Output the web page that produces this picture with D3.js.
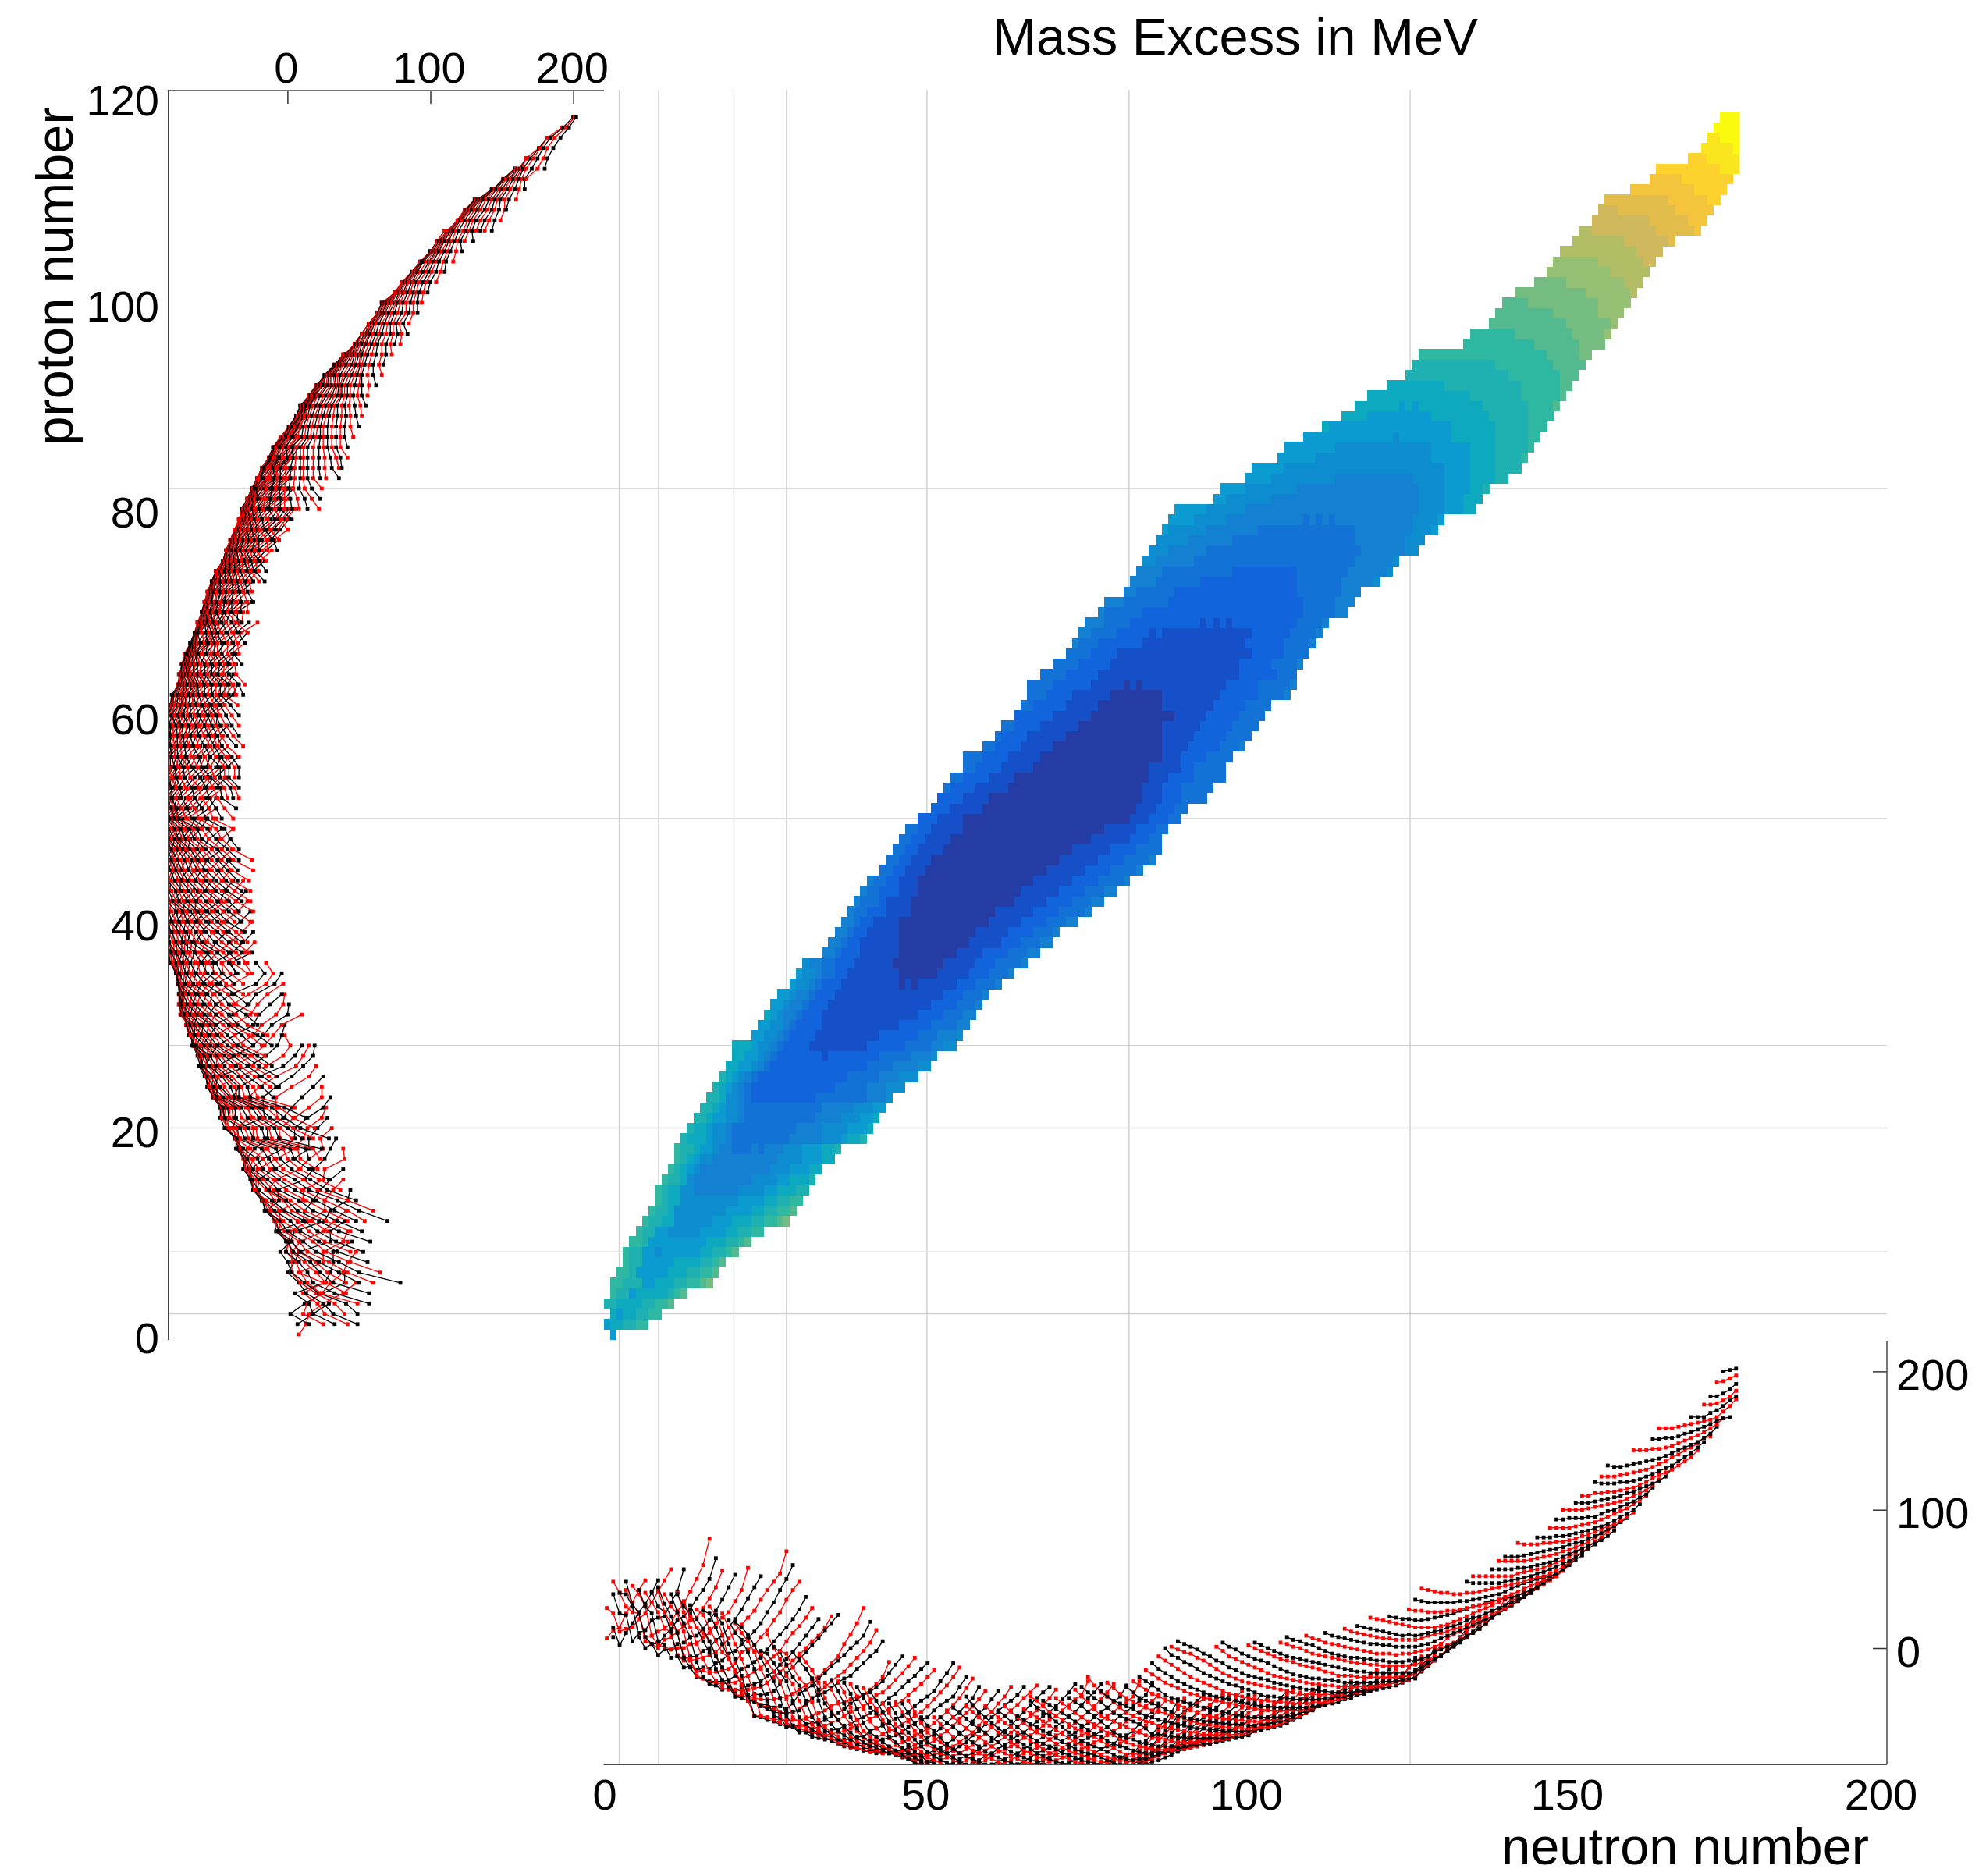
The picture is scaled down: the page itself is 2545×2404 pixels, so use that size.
<!DOCTYPE html>
<html><head><meta charset="utf-8">
<script src="https://cdn.jsdelivr.net/npm/d3@7"></script>
<style>html,body{margin:0;padding:0;background:#fff}svg{display:block}text{font-family:"Liberation Sans",Arial,sans-serif;fill:#000}</style>
</head><body><svg id="c" width="2545" height="2404"></svg>
<script>
const titleText="Mass Excess in MeV", xTitle="neutron number", yTitle="proton number";
const zTicks=[0,20,40,60,80,100,120], nTicks=[0,50,100,150,200], meTicks=[0,100,200];
const magicZ=[2,8,20,28,50,82];
const magicN=[2.44,8.57,20.3,28.5,50.4,81.9,125.7];
const bandColors=["#263ca5","#1650c8","#1164dc","#1272d6","#1480d2","#0d8dcf","#0b9bd0","#0daabf","#1fb0b2","#2eb7a1","#52ba8e","#75bc80","#95bf72","#b2bd66","#d0b85c","#e3bd4b","#f4c43c","#fdd22c","#f9e61e","#fafa0e"];
// first neutron number of each isotopic row, Z = 0..118
const firstN=[1,0,1,0,1,1,2,3,3,4,5,6,7,8,8,9,10,11,11,12,13,14,15,16,17,18,19,20,20,23,24,25,26,27,29,30,31,34,35,36,37,38,39,40,41,43,44,45,46,47,49,51,52,53,54,56,56,59,61,62,64,65,66,66,68,70,72,73,74,75,77,78,81,82,83,84,85,86,87,88,89,95,96,100,101,105,106,109,112,115,117,119,122,125,126,127,134,135,138,139,140,142,145,147,148,149,151,152,154,155,156,160,163,164,169,171,172,173,174];
// mass excess in MeV read per row, Z = 0..118, from firstN upward
const massExcess=[
[8],
[7,13,15,25,33,42,49],
[15,2,11,18,26,32,40,49],
[29,25,12,14,15,21,25,33,41,49,57],
[39,25,24,5,11,13,20,22,23,33,41,57],
[48,40,30,26,25,8,9,12,14,18,27,32,41,50,60,79],
[40,39,30,8,0,3,3,9,14,20,23,28,36,42,50,65],
[42,32,25,5,3,0,6,8,12,16,20,22,29,36,44,56],
[48,32,25,8,3,-5,-1,-1,3,4,8,9,14,20,27,35,44,53],
[45,39,30,9,2,1,-1,0,0,3,3,8,11,18,22,26,34,42,58],
[42,30,25,5,2,-7,-6,-8,-6,-6,-2,0,6,9,15,21,28,36,44,52],
[40,33,26,15,11,-5,-9,-9,-8,-7,-5,-3,2,7,12,17,22,27,35,42,48,54,70],
[41,30,26,12,-6,-14,-13,-16,-14,-15,-11,-9,-4,-2,3,7,12,18,26,33,42,50,60],
[42,26,18,11,-6,-9,-17,-16,-18,-17,-16,-15,-11,-3,-1,2,8,13,20,26,35,42,48],
[44,32,23,11,-7,-14,-21,-22,-24,-24,-24,-23,-20,-15,-13,-10,-6,-1,5,10,15,21,28,37],
[39,30,25,12,-8,-20,-22,-25,-25,-26,-25,-25,-22,-20,-17,-14,-10,-6,-2,5,11,16,22,29],
[39,26,18,8,-10,-21,-26,-27,-30,-29,-31,-29,-27,-26,-24,-20,-17,-12,-8,-3,3,9,15,21],
[40,26,15,4,-8,-17,-24,-29,-30,-30,-31,-30,-29,-28,-25,-21,-17,-13,-9,-5,0,5,9,15,23],
[39,30,25,15,5,-3,-15,-23,-28,-35,-34,-36,-33,-34,-33,-31,-26,-18,-14,-8,-3,2,7,13,18,24],
[34,23,15,11,5,-5,-14,-24,-34,-34,-36,-36,-37,-37,-37,-36,-35,-33,-30,-27,-24,-21,-16,-11,-6,3,10,18,29],
[31,21,14,5,-6,-14,-24,-35,-36,-38,-38,-41,-41,-43,-42,-44,-40,-33,-30,-27,-22,-18,-13,-9,-5,0,4,9,19],
[28,24,14,5,-3,-7,-16,-26,-36,-38,-41,-43,-44,-46,-47,-46,-44,-41,-37,-32,-28,-24,-20,-17,-12,-7,-2,4,13],
[27,25,15,3,-8,-17,-27,-37,-39,-42,-44,-46,-47,-47,-46,-45,-40,-36,-34,-32,-29,-25,-22,-20,-15,-11,-6,-2,5],
[30,24,10,-8,-17,-27,-38,-49,-49,-50,-51,-52,-52,-52,-52,-51,-49,-47,-45,-42,-40,-39,-37,-35,-34,-30,-26,-21,-10],
[24,18,3,-8,-20,-34,-49,-50,-52,-53,-55,-56,-56,-56,-55,-54,-54,-52,-49,-47,-44,-40,-37,-34,-32,-28,-24,-18,-12,-6],
[25,15,3,-8,-20,-34,-49,-50,-52,-54,-57,-56,-57,-56,-58,-57,-56,-54,-52,-49,-46,-44,-42,-39,-34,-32,-28,-23,-18,-13,-7],
[20,11,6,-3,-15,-27,-38,-49,-50,-57,-57,-61,-60,-62,-60,-61,-59,-59,-56,-55,-52,-50,-47,-44,-40,-36,-33,-28,-24,-20,-15,-11],
[18,11,5,-3,-15,-25,-37,-49,-54,-56,-58,-60,-60,-62,-63,-62,-61,-60,-58,-56,-54,-51,-49,-47,-44,-41,-38,-34,-30,-26,-21,-16],
[19,15,10,2,-7,-16,-24,-36,-49,-56,-60,-61,-64,-65,-66,-66,-67,-66,-66,-64,-64,-60,-58,-56,-54,-51,-49,-46,-42,-38,-35,-31,-24,-18,-11],
[-2,-4,-10,-17,-24,-37,-50,-54,-57,-60,-63,-65,-66,-67,-68,-68,-69,-69,-68,-65,-62,-60,-58,-55,-52,-49,-46,-42,-37,-32,-27,-21,-14],
[-2,-4,-11,-18,-24,-38,-50,-55,-59,-61,-65,-67,-69,-71,-71,-71,-70,-69,-68,-66,-65,-63,-61,-57,-54,-52,-50,-45,-41,-38,-35,-28,-21],
[10,0,-8,-20,-26,-38,-50,-55,-60,-63,-65,-68,-70,-72,-73,-74,-75,-74,-73,-72,-70,-68,-66,-63,-61,-58,-54,-50,-46,-41,-36,-29,-22],
[1,-3,-12,-21,-27,-38,-50,-55,-59,-63,-66,-68,-71,-73,-74,-75,-76,-76,-75,-74,-74,-72,-70,-68,-65,-62,-58,-54,-50,-46,-41,-36,-28],
[-2,-4,-14,-22,-27,-39,-52,-57,-61,-64,-67,-70,-72,-73,-75,-75,-76,-76,-75,-75,-74,-73,-71,-69,-67,-63,-60,-56,-51,-47,-42,-37,-31],
[-3,-9,-15,-22,-38,-50,-55,-60,-63,-66,-69,-72,-73,-75,-75,-76,-76,-77,-76,-77,-76,-76,-74,-72,-69,-66,-62,-58,-53,-47,-43,-37,-31],
[-4,-10,-16,-25,-36,-45,-52,-58,-64,-67,-70,-72,-74,-75,-76,-76,-77,-78,-78,-78,-78,-77,-76,-73,-71,-68,-64,-61,-56,-50,-46,-40,-35,-28],
[-15,-22,-30,-40,-46,-52,-57,-61,-65,-68,-71,-72,-74,-76,-77,-79,-80,-81,-81,-82,-80,-78,-76,-74,-71,-68,-63,-60,-55,-50,-46,-41,-38,-34,-28],
[-25,-30,-39,-49,-55,-60,-65,-68,-70,-72,-74,-76,-77,-79,-81,-82,-83,-82,-81,-79,-78,-76,-73,-70,-65,-62,-57,-53,-49,-45,-41,-36,-32,-27],
[-23,-31,-40,-50,-58,-64,-67,-70,-72,-74,-76,-78,-80,-83,-84,-87,-86,-86,-84,-83,-80,-78,-76,-73,-70,-67,-63,-60,-56,-51,-46,-41,-36,-32,-28],
[-24,-32,-43,-52,-60,-64,-68,-71,-73,-76,-78,-80,-82,-84,-87,-87,-87,-86,-85,-83,-81,-78,-76,-74,-71,-68,-64,-61,-57,-53,-49,-45,-41,-36,-30],
[-25,-33,-44,-54,-61,-64,-68,-71,-74,-77,-80,-83,-85,-89,-88,-89,-88,-87,-85,-85,-83,-81,-78,-76,-73,-70,-67,-63,-61,-57,-53,-49,-46,-42,-37,-32,-26],
[-26,-35,-44,-53,-58,-62,-65,-70,-73,-76,-78,-82,-87,-87,-88,-88,-87,-86,-85,-84,-83,-81,-78,-75,-73,-71,-68,-65,-63,-60,-56,-52,-49,-45,-41,-37,-34,-24],
[-28,-36,-43,-47,-55,-64,-68,-72,-76,-79,-82,-86,-87,-88,-88,-88,-88,-88,-87,-86,-85,-84,-82,-80,-78,-76,-73,-70,-67,-64,-61,-57,-53,-49,-46,-41,-36,-32,-26],
[-29,-37,-44,-52,-58,-61,-66,-70,-75,-78,-82,-83,-85,-86,-87,-87,-88,-88,-87,-87,-86,-84,-83,-81,-78,-76,-74,-72,-69,-66,-63,-61,-57,-54,-50,-46,-42,-37,-32,-26],
[-31,-38,-46,-53,-59,-65,-70,-75,-78,-82,-83,-85,-86,-87,-88,-88,-89,-88,-88,-88,-87,-86,-85,-84,-82,-79,-76,-74,-72,-70,-67,-64,-61,-57,-54,-50,-46,-43,-39,-35,-27],
[-40,-47,-55,-60,-65,-70,-75,-79,-81,-83,-85,-86,-87,-88,-88,-89,-88,-88,-87,-87,-86,-85,-84,-82,-80,-78,-76,-74,-72,-69,-66,-63,-61,-57,-53,-49,-46,-42,-39,-35,-24],
[-40,-47,-56,-61,-66,-71,-75,-78,-81,-83,-85,-87,-88,-89,-89,-89,-89,-88,-88,-87,-87,-86,-84,-83,-81,-79,-77,-75,-72,-70,-67,-65,-63,-60,-57,-53,-49,-46,-42,-38,-34,-25],
[-39,-46,-53,-60,-64,-70,-73,-76,-78,-81,-83,-85,-86,-87,-88,-88,-89,-88,-88,-88,-87,-86,-85,-84,-82,-81,-79,-77,-75,-73,-71,-68,-66,-63,-60,-57,-53,-49,-46,-42,-38,-34],
[-40,-47,-55,-60,-68,-71,-74,-76,-79,-82,-84,-85,-87,-88,-89,-89,-89,-89,-90,-89,-88,-88,-87,-87,-85,-84,-83,-81,-79,-77,-76,-73,-71,-69,-65,-63,-60,-55,-50,-46,-40],
[-38,-46,-54,-61,-65,-68,-71,-74,-76,-78,-81,-84,-85,-86,-87,-88,-89,-89,-89,-89,-89,-88,-88,-87,-86,-85,-84,-83,-81,-79,-77,-75,-72,-69,-66,-63,-60,-56,-50,-44,-38],
[-50,-56,-60,-65,-70,-73,-76,-78,-80,-82,-84,-86,-87,-88,-89,-90,-90,-91,-90,-91,-90,-91,-89,-89,-88,-87,-85,-84,-83,-82,-80,-79,-77,-76,-71,-67,-62,-57,-52,-46,-38],
[-50,-55,-60,-64,-68,-71,-74,-76,-78,-80,-82,-84,-85,-86,-87,-88,-88,-89,-89,-89,-89,-88,-88,-88,-87,-86,-85,-84,-82,-81,-79,-78,-74,-70,-65,-60,-55,-50,-44,-36],
[-50,-54,-57,-61,-65,-68,-71,-75,-77,-79,-81,-83,-84,-85,-86,-87,-88,-88,-89,-89,-90,-89,-90,-89,-89,-88,-87,-86,-85,-83,-81,-78,-74,-70,-65,-60,-55,-49,-46,-42,-38,-34],
[-45,-50,-54,-58,-61,-64,-68,-71,-74,-76,-78,-80,-82,-83,-84,-85,-86,-87,-87,-88,-88,-88,-88,-87,-87,-86,-85,-84,-83,-81,-78,-75,-71,-67,-62,-57,-52,-47,-44,-40,-37,-34],
[-43,-47,-51,-55,-58,-61,-65,-68,-72,-75,-77,-79,-81,-82,-84,-85,-86,-87,-88,-88,-89,-88,-89,-88,-88,-87,-86,-85,-84,-81,-78,-75,-72,-68,-61,-57,-54,-51,-47,-44,-41,-37,-34],
[-42,-46,-50,-54,-57,-61,-64,-68,-71,-74,-76,-78,-80,-81,-82,-84,-85,-86,-87,-87,-88,-88,-88,-87,-87,-87,-86,-83,-79,-76,-73,-70,-67,-63,-60,-54,-47,-44,-41,-37,-34],
[-35,-41,-46,-50,-54,-58,-61,-64,-67,-70,-73,-76,-78,-80,-82,-83,-84,-85,-86,-87,-87,-87,-88,-87,-88,-87,-87,-83,-81,-79,-77,-74,-71,-67,-62,-58,-54,-50,-47,-43,-39,-34],
[-42,-46,-50,-54,-57,-61,-64,-67,-70,-73,-76,-77,-79,-80,-82,-83,-84,-85,-85,-86,-86,-87,-87,-87,-84,-82,-79,-77,-75,-72,-69,-66,-62,-58,-54,-51,-49,-46,-42,-36,-31],
[-45,-49,-53,-57,-61,-64,-67,-69,-71,-73,-76,-77,-79,-81,-82,-83,-84,-85,-85,-86,-86,-87,-84,-82,-80,-77,-75,-73,-71,-68,-65,-62,-58,-55,-52,-49,-46,-42,-38,-34],
[-42,-46,-50,-54,-58,-61,-63,-66,-69,-72,-74,-76,-77,-79,-81,-82,-83,-84,-85,-85,-86,-84,-82,-80,-78,-76,-74,-71,-69,-67,-64,-62,-58,-56,-53,-50,-47,-43,-39,-34],
[-49,-52,-55,-57,-60,-62,-65,-68,-70,-73,-75,-76,-77,-79,-81,-83,-84,-85,-86,-84,-84,-82,-81,-79,-77,-75,-73,-70,-68,-65,-62,-59,-56,-53,-50,-47,-43,-39,-34],
[-44,-47,-50,-53,-56,-59,-62,-65,-68,-70,-73,-75,-77,-79,-80,-81,-82,-82,-81,-80,-79,-77,-76,-74,-73,-71,-70,-68,-66,-64,-62,-60,-57,-54,-51,-47,-44,-40,-35],
[-38,-43,-46,-49,-53,-57,-61,-64,-67,-69,-71,-73,-75,-77,-79,-80,-81,-80,-80,-78,-77,-75,-74,-73,-72,-71,-69,-67,-66,-64,-62,-60,-58,-55,-53,-50,-47,-44,-41,-36,-31],
[-35,-38,-42,-46,-49,-52,-55,-58,-60,-62,-64,-67,-70,-72,-75,-77,-76,-77,-76,-75,-74,-73,-72,-71,-70,-68,-67,-66,-65,-64,-63,-61,-58,-56,-53,-50,-47,-44,-41,-38,-34,-30],
[-38,-41,-44,-47,-50,-53,-56,-59,-62,-64,-67,-69,-71,-72,-74,-75,-76,-76,-75,-75,-75,-74,-73,-72,-71,-70,-69,-68,-66,-65,-63,-61,-58,-56,-53,-51,-49,-45,-41,-36],
[-36,-40,-43,-47,-50,-53,-55,-58,-61,-63,-66,-68,-70,-71,-72,-73,-73,-74,-74,-73,-73,-72,-71,-70,-69,-68,-66,-65,-63,-61,-58,-56,-53,-50,-47,-44,-41,-37,-32],
[-36,-39,-42,-46,-49,-53,-57,-61,-63,-65,-66,-68,-69,-70,-71,-71,-71,-72,-71,-70,-70,-69,-69,-68,-67,-66,-65,-64,-63,-60,-57,-54,-51,-49,-46,-42,-38,-34],
[-30,-35,-39,-44,-49,-51,-53,-55,-57,-59,-61,-63,-64,-65,-66,-67,-68,-68,-68,-68,-67,-67,-66,-66,-65,-64,-63,-61,-58,-56,-53,-51,-49,-46,-42,-38,-35,-30],
[-28,-32,-36,-39,-43,-47,-49,-51,-53,-55,-58,-63,-62,-63,-64,-64,-65,-65,-65,-65,-65,-65,-65,-64,-64,-63,-63,-60,-57,-55,-53,-51,-49,-46,-42,-38,-34,-28],
[-21,-27,-32,-35,-39,-43,-47,-49,-51,-53,-54,-56,-57,-58,-59,-60,-61,-61,-63,-62,-63,-62,-63,-62,-62,-61,-60,-58,-57,-56,-54,-52,-50,-46,-43,-39,-36,-32],
[-31,-35,-38,-40,-42,-44,-47,-49,-50,-52,-53,-54,-55,-56,-57,-58,-58,-59,-59,-60,-60,-60,-60,-60,-59,-59,-58,-57,-56,-54,-52,-50,-47,-45,-42,-39,-36,-33,-28],
[-25,-29,-33,-36,-39,-41,-43,-45,-46,-47,-49,-50,-51,-53,-54,-55,-55,-56,-57,-57,-58,-58,-58,-58,-57,-57,-56,-55,-53,-51,-49,-47,-44,-41,-39,-36,-32,-28,-24],
[-28,-32,-36,-38,-40,-42,-44,-46,-49,-50,-51,-52,-53,-53,-54,-54,-55,-55,-55,-56,-56,-55,-55,-54,-53,-52,-50,-47,-45,-43,-41,-38,-36,-34,-31,-28,-25],
[-24,-27,-30,-33,-35,-37,-39,-41,-43,-45,-46,-49,-49,-50,-51,-51,-52,-52,-53,-53,-53,-52,-52,-51,-50,-49,-47,-45,-43,-41,-39,-37,-35,-33,-30,-27,-24,-20,-16],
[-21,-24,-27,-30,-34,-36,-37,-39,-40,-42,-43,-44,-45,-46,-47,-49,-49,-50,-50,-50,-50,-50,-50,-49,-49,-47,-46,-44,-42,-41,-39,-37,-35,-33,-31,-28,-26,-23,-20,-15],
[-16,-19,-22,-25,-27,-29,-31,-33,-34,-36,-37,-38,-39,-40,-41,-42,-43,-44,-44,-45,-45,-45,-45,-45,-45,-44,-43,-42,-40,-39,-37,-36,-34,-32,-30,-28,-26,-23,-20,-15],
[-11,-15,-18,-21,-24,-26,-28,-30,-32,-34,-35,-36,-37,-38,-39,-40,-41,-42,-42,-43,-43,-43,-43,-43,-43,-42,-42,-41,-40,-39,-37,-36,-34,-33,-31,-29,-27,-25,-23,-20,-14,-7],
[-6,-9,-12,-15,-18,-21,-23,-25,-27,-29,-31,-33,-34,-35,-36,-37,-38,-38,-39,-39,-39,-40,-40,-40,-39,-39,-39,-38,-37,-36,-34,-33,-31,-29,-27,-25,-23,-21,-20,-14,-10,-6],
[0,-5,-7,-10,-12,-15,-18,-20,-22,-24,-26,-27,-29,-30,-32,-34,-35,-35,-36,-36,-37,-37,-37,-37,-37,-36,-36,-35,-35,-34,-33,-31,-30,-28,-27,-25,-23,-21,-20,-16,-12,-8,0],
[1,-1,-3,-4,-7,-9,-12,-15,-18,-20,-22,-24,-25,-26,-27,-28,-29,-30,-31,-32,-33,-34,-33,-34,-33,-34,-33,-33,-32,-32,-31,-30,-29,-28,-26,-25,-23,-21,-18,-14,-9,-5,3],
[5,3,1,-1,-4,-6,-9,-11,-14,-16,-18,-20,-21,-22,-23,-25,-26,-27,-28,-29,-30,-30,-31,-31,-32,-32,-32,-32,-31,-31,-31,-30,-29,-28,-27,-25,-23,-20,-17,-13,-9,-5,-2,3,8,14,22],
[1,-2,-6,-8,-10,-12,-14,-16,-18,-20,-21,-22,-23,-24,-25,-26,-26,-27,-27,-28,-28,-28,-28,-28,-28,-27,-27,-26,-25,-24,-23,-21,-16,-12,-9,-5,-2,2,7,12,17,23],
[4,1,-1,-4,-6,-8,-9,-11,-13,-15,-17,-19,-20,-21,-22,-22,-23,-23,-24,-25,-25,-25,-25,-25,-25,-24,-24,-24,-23,-22,-22,-15,-11,-8,-6,-2,1,4,8,12,17,24],
[2,0,-2,-4,-6,-8,-9,-10,-12,-13,-14,-15,-17,-18,-20,-20,-20,-21,-21,-21,-21,-21,-21,-21,-20,-20,-18,-13,-9,-7,-5,-1,2,5,9,11,14,18,23,27,36],
[4,2,0,-2,-4,-6,-7,-8,-9,-10,-11,-12,-13,-14,-15,-16,-17,-17,-18,-18,-18,-18,-18,-18,-18,-17,-14,-10,-8,-5,-2,2,5,9,11,14,18,22,26,31,36,38],
[4,3,1,0,-2,-4,-5,-6,-7,-8,-9,-10,-11,-11,-12,-12,-13,-13,-13,-13,-13,-12,-10,-6,-3,0,2,4,6,9,11,14,18,22,26,30,34,37,42],
[8,6,5,3,2,0,-2,-4,-5,-6,-7,-7,-8,-8,-9,-9,-10,-10,-10,-9,-9,-8,-6,-3,-1,1,3,6,9,11,14,18,22,25,28,31,34,37,42],
[9,7,6,4,3,2,1,0,-1,-2,-3,-4,-4,-4,-5,-4,-4,-3,-2,-1,1,3,7,10,12,14,16,18,20,23,25,28,31,34,37,40,46],
[11,9,8,7,6,5,4,3,3,2,2,1,1,1,1,2,3,5,7,9,11,13,15,17,19,21,23,25,28,31,34,37,40,44,50],
[14,12,11,10,9,8,7,7,6,6,6,6,7,9,10,11,12,14,15,17,19,21,23,25,27,29,32,35,38,41,44,48,52],
[16,15,14,13,12,11,10,9,10,9,10,11,12,13,15,16,18,20,22,23,25,27,29,31,33,35,38,40,43,47,51,55],
[22,21,20,19,18,17,16,15,15,15,15,16,17,19,21,23,25,27,29,31,33,35,37,38,40,42,44,46,49,52,56],
[23,22,21,21,20,20,21,22,23,24,25,27,28,30,31,33,34,35,36,37,38,40,42,44,47,50,52,57,62],
[28,27,27,26,26,26,27,27,28,29,30,31,32,33,35,37,39,41,43,45,47,49,51,52,56,60,66],
[35,34,33,33,33,33,33,34,34,35,36,37,38,39,41,43,45,47,48,50,51,52,54,57,60,64,67],
[43,42,41,40,40,39,39,40,40,41,42,43,44,45,46,47,48,50,51,52,54,56,59,62,66,69,73],
[48,47,47,47,47,47,48,49,50,51,52,54,55,57,59,61,63,66,69,72,75,79],
[52,52,52,52,52,52,52,54,55,56,57,58,60,62,64,66,69,72,74,77,80,84],
[57,57,57,57,58,58,59,60,61,62,64,66,68,70,72,74,76,78,81,85],
[63,63,63,63,63,64,65,66,67,68,70,71,73,75,77,80,83,85,88,91],
[66,66,66,67,68,69,70,71,72,73,75,76,77,79,81,83,86,88,91,94],
[76,75,75,75,76,76,77,77,78,79,81,82,84,86,88,90,92,95,98],
[80,80,80,81,81,82,83,84,85,87,88,90,92,95,97,100,104],
[87,87,87,87,88,89,90,91,93,95,97,99,101,104,107,110],
[93,93,94,94,94,95,95,97,99,100,102,104,106,109,111,116],
[100,100,100,100,101,102,103,104,105,106,108,110,112,114,118,122],
[105,105,105,106,107,108,109,110,112,113,115,117,119,121,124,130],
[110,110,112,112,113,113,114,115,116,118,120,123,125,127,129,132,135,138,143],
[120,119,119,119,120,120,121,122,124,126,128,130,132,135,138,141,145,149],
[124,124,124,125,126,127,128,129,131,133,135,138,140,143,145,148,152,153],
[132,131,131,132,133,134,135,136,137,139,141,143,145,147,149,152,155,160],
[143,143,143,144,144,145,146,148,150,152,154,156,159,162,166],
[151,151,152,152,153,155,156,158,160,162,164,166,167],
[159,159,159,160,161,162,163,164,165,167,171,175,180],
[167,167,167,170,172,175,179,182],
[176,176,177,179,182,186],
[182,182,184,187,191],
[192,193,195,197],
[200,201,202]
];

const nuclides=massExcess.flatMap((row,Z)=>row.map((me,i)=>({Z,N:firstN[Z]+i,me})));
const svg=d3.select("#c");
svg.append("rect").attr("width",2545).attr("height",2404).attr("fill","#fff");

const xN=d3.scaleLinear([0,200],[773.5,2418]);
const yZ=d3.scaleLinear([0,120],[1710,123.6]);
const xME=d3.scaleLinear([0,200],[368.4,734.6]);
const yME=d3.scaleLinear([0,200],[2112,1757.4]);
const color=d3.scaleQuantize([-91.2,196.8],bandColors);

const defs=svg.append("defs");
defs.append("clipPath").attr("id","clipL").append("rect").attr("x",216).attr("y",115).attr("width",558).attr("height",1602);
defs.append("clipPath").attr("id","clipB").append("rect").attr("x",773.5).attr("y",1718).attr("width",1644.5).attr("height",543);

// magic-number grid
const grid=svg.append("g").attr("stroke","#d2d2d2").attr("stroke-width",1.5);
grid.selectAll("line.h").data(magicZ).join("line").attr("class","h").attr("x1",216).attr("x2",2418).attr("y1",d=>yZ(d)).attr("y2",d=>yZ(d));
grid.selectAll("line.v").data(magicN).join("line").attr("class","v").attr("y1",115).attr("y2",2261).attr("x1",d=>xN(d)).attr("x2",d=>xN(d));

// heat map
const cellW=xN(1)-xN(0), cellH=yZ(0)-yZ(1);
svg.append("g").attr("shape-rendering","crispEdges").selectAll("rect").data(nuclides).join("rect")
  .attr("x",d=>xN(d.N)).attr("y",d=>yZ(d.Z+0.5)).attr("width",cellW+0.4).attr("height",cellH+0.4).attr("fill",d=>color(d.me));

const chainColor=k=>k%2?"#ff0000":"#000000";
function chains(g,groups,px,py){
  const line=d3.line().x(px).y(py);
  const gs=g.selectAll("g").data(groups).join("g");
  gs.append("path").attr("fill","none").attr("stroke-width",1.35).attr("stroke",d=>chainColor(d[0])).attr("d",d=>line(d[1]));
  gs.selectAll("rect").data(d=>d[1].map(p=>({...p,k:d[0]}))).join("rect")
    .attr("x",d=>px(d)-2.4).attr("y",d=>py(d)-2.4).attr("width",4.8).attr("height",4.8).attr("fill",d=>chainColor(d.k));
}
// left panel: isotonic chains, bottom panel: isotopic chains
const byN=d3.groups(nuclides,d=>d.N).map(([k,v])=>[k,v.slice().sort((a,b)=>a.Z-b.Z)]).sort((a,b)=>a[0]-b[0]);
const byZ=d3.groups(nuclides,d=>d.Z).sort((a,b)=>a[0]-b[0]);
chains(svg.append("g").attr("clip-path","url(#clipL)"),byN,d=>xME(d.me),d=>yZ(d.Z));
chains(svg.append("g").attr("clip-path","url(#clipB)"),byZ,d=>xN(d.N+0.5),d=>yME(d.me));

// axes
function styleAxis(g,dark){g.select(".domain").remove();g.selectAll("line").attr("stroke",dark).attr("stroke-width",1.5);g.selectAll("text").attr("font-family",'"Liberation Sans",Arial,sans-serif').attr("font-size",56).attr("fill","#000");}
const aL=svg.append("g").attr("transform","translate(216,0)").call(d3.axisLeft(yZ).tickValues(zTicks).tickSize(0).tickPadding(12));
styleAxis(aL,"#000");aL.selectAll("text").attr("dy",23.5);
const aT=svg.append("g").attr("transform","translate(0,116)").call(d3.axisTop(xME).tickValues(meTicks).tickSizeInner(-17).tickSizeOuter(0));
styleAxis(aT,"#333");aT.selectAll("text").attr("y",-10).attr("dy",0).attr("dx",-2);
const aB=svg.append("g").attr("transform","translate(0,2261)").call(d3.axisBottom(xN).tickValues(nTicks).tickSize(0));
styleAxis(aB,"#000");aB.selectAll("text").attr("y",58).attr("dy",0).attr("dx",d=>d===200?-8:1);
const aR=svg.append("g").attr("transform","translate(2418,0)").call(d3.axisRight(yME).tickValues(meTicks).tickSizeInner(-18).tickSizeOuter(0));
styleAxis(aR,"#333");aR.selectAll("text").attr("x",12).attr("dy",23);

const spine=(x1,y1,x2,y2,c)=>svg.append("line").attr("x1",x1).attr("y1",y1).attr("x2",x2).attr("y2",y2).attr("stroke",c).attr("stroke-width",1.6);
spine(216,115,216,1717,"#111");
spine(216,116,774,116,"#444");
spine(773.5,2261,2418,2261,"#111");
spine(2418,1718,2418,2261,"#555");

svg.append("text").attr("x",1583).attr("y",69.5).attr("text-anchor","middle").attr("font-size",67).text(titleText);
svg.append("text").attr("x",2395).attr("y",2389).attr("text-anchor","end").attr("font-size",66.7).text(xTitle);
svg.append("text").attr("transform","translate(93,354) rotate(-90)").attr("text-anchor","middle").attr("font-size",66.6).text(yTitle);
</script></body></html>
